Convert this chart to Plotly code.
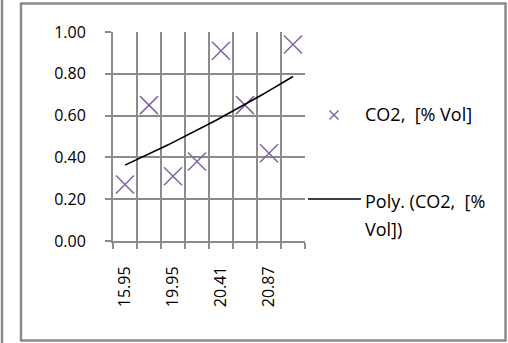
import numpy as np
import plotly.graph_objects as go

# data
categories = ["15.95", "18.72", "19.95", "20.18", "20.41", "20.64", "20.87", "21.05"]
co2_values = [0.27, 0.65, 0.31, 0.38, 0.91, 0.65, 0.42, 0.94]
y_ticks = [0.0, 0.2, 0.4, 0.6, 0.8, 1.0]
series_name = "CO2,  [% Vol]"
trend_line1 = "Poly. (CO2,  [%"
trend_line2 = "Vol])"

W, H = 508, 343
L, R, T, B = 113, 305, 32, 241  # plot area in pixels


def px(x):
    return (x - L) / (R - L)


def py(y):
    return (B - y) / (B - T)


idx = np.arange(1, len(categories) + 1)
coef = np.polyfit(idx, co2_values, 2)
xs = np.linspace(1, len(categories), 60)
ys = np.polyval(coef, xs)

purple = "#8064A2"
grid = "#8c8c8c"
font = "Open Sans"
tick_size = 16
leg_size = 18

fig = go.Figure()
fig.add_trace(go.Scatter(
    x=idx, y=co2_values, mode="markers", name=series_name,
    marker=dict(symbol="x-thin", size=18, line=dict(color=purple, width=1.5)),
    showlegend=False, hoverinfo="skip",
))
fig.add_trace(go.Scatter(
    x=xs, y=ys, mode="lines", name="Poly. (CO2, [% Vol])",
    line=dict(color="black", width=1.6), showlegend=False, hoverinfo="skip",
))

fig.update_layout(
    width=W, height=H, autosize=False,
    margin=dict(l=L, r=W - R, t=T, b=H - B, pad=0),
    paper_bgcolor="white", plot_bgcolor="white",
    font=dict(family=font, color="black", size=tick_size),
    xaxis=dict(
        range=[0.5, len(categories) + 0.5],
        tickmode="array", tickvals=idx[::2].tolist(), ticktext=categories[::2],
        tickangle=-90, ticks="", showgrid=False, zeroline=False,
        tickfont=dict(size=tick_size, family=font, color="black"),
        ticklabelstandoff=17,
        minor=dict(tickmode="array", tickvals=[i + 0.5 for i in range(len(categories) + 1)],
                   showgrid=True, gridcolor=grid, gridwidth=2,
                   ticks="outside", ticklen=6, tickcolor=grid, tickwidth=2),
        showline=True, linecolor=grid, linewidth=2, fixedrange=True,
    ),
    yaxis=dict(
        range=[0, 1.0], tickmode="array", tickvals=y_ticks,
        ticktext=[f"{v:.2f}" for v in y_ticks],
        showgrid=True, gridcolor=grid, gridwidth=2,
        ticks="outside", ticklen=6, tickcolor=grid, tickwidth=2,
        zeroline=False, showline=True, linecolor=grid, linewidth=2,
        tickfont=dict(size=tick_size, family=font, color="black"),
        ticklabelstandoff=16, fixedrange=True,
    ),
)

shapes = []
# outer chart frame
shapes.append(dict(type="rect", xref="paper", yref="paper",
                   x0=px(21), x1=px(505.5), y0=py(340.5), y1=py(3.5),
                   line=dict(color="#8a8a8a", width=2.5), layer="below"))
# neighbouring frame edge on far left
shapes.append(dict(type="line", xref="paper", yref="paper",
                   x0=px(2), x1=px(2), y0=py(343), y1=py(0),
                   line=dict(color="#8a8a8a", width=2.5)))
# legend symbols
cx, cy, s = 334, 115, 4.5
shapes.append(dict(type="line", xref="paper", yref="paper",
                   x0=px(cx - s), x1=px(cx + s), y0=py(cy - s), y1=py(cy + s),
                   line=dict(color=purple, width=1.5)))
shapes.append(dict(type="line", xref="paper", yref="paper",
                   x0=px(cx - s), x1=px(cx + s), y0=py(cy + s), y1=py(cy - s),
                   line=dict(color=purple, width=1.5)))
shapes.append(dict(type="line", xref="paper", yref="paper",
                   x0=px(308), x1=px(361), y0=py(199), y1=py(199),
                   line=dict(color="black", width=1.6)))
fig.update_layout(shapes=shapes)

for text, yc in [(series_name, 114), (trend_line1, 201), (trend_line2, 229)]:
    fig.add_annotation(xref="paper", yref="paper", x=px(364), y=py(yc),
                       text=text, showarrow=False, xanchor="left", yanchor="middle",
                       borderpad=0, font=dict(size=leg_size, family=font, color="black"))

fig.write_html("out.html", config={"displayModeBar": False, "staticPlot": True},
               post_script="document.body.style.margin='0';document.body.style.overflow='hidden';")
